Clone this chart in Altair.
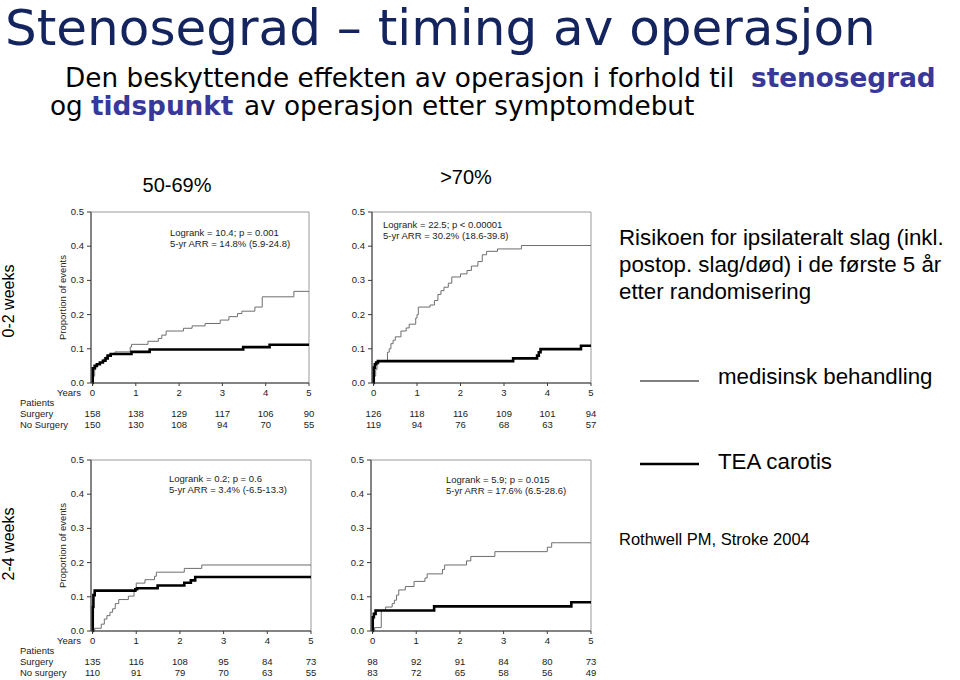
import altair as alt
import pandas as pd

# ------------------------------------------------------------------ data
YEARS = [0, 1, 2, 3, 4, 5]
Y_TICKS = [0.0, 0.1, 0.2, 0.3, 0.4, 0.5]

# 50-69 %, 0-2 weeks
a_med_t = [0, 0.02, 0.05, 0.08, 0.12, 0.18, 0.25, 0.32, 0.4, 0.52, 0.87, 0.9, 1.28, 1.52,
           1.6, 1.7, 2.1, 2.3, 2.6, 2.95, 3.15, 3.35, 3.45, 3.75, 3.92, 4.65, 5]
a_med_y = [0, 0.02, 0.04, 0.05, 0.055, 0.06, 0.07, 0.08, 0.085, 0.091, 0.105, 0.113, 0.122, 0.13,
           0.14, 0.152, 0.16, 0.167, 0.174, 0.184, 0.194, 0.203, 0.21, 0.222, 0.252, 0.268, 0.268]
a_tea_t = [0, 0.005, 0.05, 0.1, 0.17, 0.24, 0.3, 0.35, 0.42, 0.9, 1.32, 3.48, 4.09, 5]
a_tea_y = [0, 0.043, 0.05, 0.055, 0.06, 0.065, 0.072, 0.08, 0.085, 0.091, 0.098, 0.105, 0.112, 0.112]
a_surg_n = [158, 138, 129, 117, 106, 90]
a_nosurg_n = [150, 130, 108, 94, 70, 55]
a_stats = ["Logrank = 10.4; p = 0.001", "5-yr ARR = 14.8% (5.9-24.8)"]

# >70 %, 0-2 weeks
b_med_t = [0, 0.02, 0.05, 0.08, 0.12, 0.32, 0.36, 0.4, 0.45, 0.5, 0.63, 0.75, 0.82, 0.97, 1.0,
           1.03, 1.3, 1.4, 1.48, 1.55, 1.62, 1.72, 1.8, 2.0, 2.15, 2.25, 2.4, 2.5, 2.6, 2.85, 3.4, 5]
b_med_y = [0, 0.02, 0.04, 0.055, 0.065, 0.09, 0.1, 0.115, 0.125, 0.135, 0.152, 0.161, 0.172, 0.19, 0.2,
           0.222, 0.228, 0.241, 0.259, 0.27, 0.28, 0.292, 0.31, 0.319, 0.329, 0.342, 0.355, 0.375,
           0.385, 0.392, 0.402, 0.402]
b_tea_t = [0, 0.005, 0.03, 0.06, 0.1, 3.21, 3.76, 3.8, 3.84, 4.77, 5]
b_tea_y = [0, 0.045, 0.055, 0.06, 0.064, 0.072, 0.08, 0.09, 0.099, 0.109, 0.109]
b_surg_n = [126, 118, 116, 109, 101, 94]
b_nosurg_n = [119, 94, 76, 68, 63, 57]
b_stats = ["Logrank = 22.5; p < 0.00001", "5-yr ARR = 30.2% (18.6-39.8)"]

# 50-69 %, 2-4 weeks
c_med_t = [0, 0.05, 0.2, 0.27, 0.33, 0.4, 0.46, 0.52, 0.6, 0.82, 0.95, 1.0, 1.2, 1.42, 1.46,
           2.1, 2.5, 5]
c_med_y = [0, 0.008, 0.02, 0.035, 0.045, 0.055, 0.065, 0.08, 0.092, 0.102, 0.12, 0.14, 0.15,
           0.16, 0.172, 0.183, 0.193, 0.193]
c_tea_t = [0, 0.005, 0.02, 0.05, 0.98, 1.02, 1.49, 2.1, 2.25, 2.35, 5]
c_tea_y = [0, 0.07, 0.105, 0.118, 0.122, 0.125, 0.133, 0.141, 0.148, 0.158, 0.158]
c_surg_n = [135, 116, 108, 95, 84, 73]
c_nosurg_n = [110, 91, 79, 70, 63, 55]
c_stats = ["Logrank = 0.2; p = 0.6", "5-yr ARR = 3.4% (-6.5-13.3)"]

# >70 %, 2-4 weeks
d_med_t = [0, 0.05, 0.2, 0.3, 0.45, 0.5, 0.55, 0.6, 0.75, 0.95, 1.2, 1.25, 1.6, 1.65, 2.15,
           2.25, 2.8, 4.0, 4.1, 5]
d_med_y = [0, 0.01, 0.06, 0.07, 0.08, 0.09, 0.105, 0.12, 0.13, 0.145, 0.155, 0.167, 0.18, 0.193,
           0.205, 0.218, 0.232, 0.245, 0.258, 0.258]
d_tea_t = [0, 0.005, 0.03, 0.07, 1.41, 4.55, 5]
d_tea_y = [0, 0.04, 0.05, 0.06, 0.072, 0.084, 0.084]
d_surg_n = [98, 92, 91, 84, 80, 73]
d_nosurg_n = [83, 72, 65, 58, 56, 49]
d_stats = ["Logrank = 5.9; p = 0.015", "5-yr ARR = 17.6% (6.5-28.6)"]

# ------------------------------------------------------------------ style
W, H = 960, 680
XMIN = -0.035
FONT = "Liberation Sans"
SANS = "DejaVu Sans"
INK = "#222222"
AXIS = "#3a3a3a"
FRAME = "#9a9a9a"
MED_COLOR = "#6e6e6e"
TEA_COLOR = "#000000"
TITLE_BLUE = "#14245e"
ACCENT = "#38389a"
ONE = alt.Data(values=[{}])


def txt(text, x, y, size, color="#000000", font=FONT, weight="normal",
        align="left", baseline="middle", angle=0):
    kw = dict(text=text, font=font, fontSize=size, color=color, fontWeight=weight,
              align=align, baseline=baseline)
    if angle:
        kw["angle"] = angle
    return alt.Chart(ONE).mark_text(**kw).encode(x=alt.value(x), y=alt.value(y))


def rule(x1, x2, y, width):
    return alt.Chart(ONE).mark_rule(color="#000000", strokeWidth=width).encode(
        x=alt.value(x1), x2=alt.value(x2), y=alt.value(y))


def panel(med_t, med_y, tea_t, tea_y, surg_n, nosurg_n, stats,
          ax, x1, ytop, ybot, stat_x, stat_y, left, nosurg_label):
    xs = alt.Scale(domain=[XMIN, 5], range=[ax, x1], nice=False, zero=False)
    ys = alt.Scale(domain=[0, 0.5], range=[ybot, ytop], nice=False, zero=False)

    def X(f):
        return alt.X(f, scale=xs, axis=None)

    def Y(f):
        return alt.Y(f, scale=ys, axis=None)

    # frame (grey box) and the two axis lines
    frame = alt.Chart(pd.DataFrame({"x": [XMIN], "x2": [5], "y": [0.0], "y2": [0.5]})
                      ).mark_rect(fill="transparent", stroke=FRAME, strokeWidth=1).encode(
        x=X("x:Q"), x2="x2:Q", y=Y("y:Q"), y2="y2:Q")
    yline = alt.Chart(pd.DataFrame({"x": [XMIN], "y": [0.0], "y2": [0.5]})
                      ).mark_rule(color=AXIS, strokeWidth=1).encode(
        x=X("x:Q"), y=Y("y:Q"), y2="y2:Q")
    xline = alt.Chart(pd.DataFrame({"x": [XMIN], "x2": [5], "y": [0.0]})
                      ).mark_rule(color=AXIS, strokeWidth=1).encode(
        x=X("x:Q"), x2="x2:Q", y=Y("y:Q"))

    xt = pd.DataFrame({"t": YEARS})
    xticks = alt.Chart(xt).mark_rule(color=AXIS, strokeWidth=1).encode(
        x=X("t:Q"), y=alt.value(ybot), y2=alt.value(ybot + 3))
    xlabels = alt.Chart(xt).mark_text(font=FONT, fontSize=9.5, color=INK,
                                      align="center", baseline="middle").encode(
        x=X("t:Q"), y=alt.value(ybot + 10), text=alt.Text("t:Q", format="d"))

    yt = pd.DataFrame({"v": Y_TICKS})
    yticks = alt.Chart(yt).mark_rule(color=AXIS, strokeWidth=1).encode(
        x=alt.value(ax - 4), x2=alt.value(ax), y=Y("v:Q"))
    ylabels = alt.Chart(yt).mark_text(font=FONT, fontSize=9.5, color=INK,
                                      align="right", baseline="middle").encode(
        x=alt.value(ax - 7), y=Y("v:Q"), text=alt.Text("v:Q", format=".1f"))

    med = alt.Chart(pd.DataFrame({"t": med_t, "p": med_y})).mark_line(
        interpolate="step-after", color=MED_COLOR, strokeWidth=1).encode(
        x=X("t:Q"), y=Y("p:Q"))
    tea = alt.Chart(pd.DataFrame({"t": tea_t, "p": tea_y})).mark_line(
        interpolate="step-after", color=TEA_COLOR, strokeWidth=2.6).encode(
        x=X("t:Q"), y=Y("p:Q"))

    cnt = pd.DataFrame({"t": YEARS, "surg": surg_n, "nosurg": nosurg_n})
    row1, row2 = ybot + 31, ybot + 42
    surg_txt = alt.Chart(cnt).mark_text(font=FONT, fontSize=9.5, color=INK,
                                        align="center", baseline="middle").encode(
        x=X("t:Q"), y=alt.value(row1), text="surg:Q")
    nosurg_txt = alt.Chart(cnt).mark_text(font=FONT, fontSize=9.5, color=INK,
                                          align="center", baseline="middle").encode(
        x=X("t:Q"), y=alt.value(row2), text="nosurg:Q")

    layers = [frame, med, tea, yline, xline, xticks, xlabels, yticks, ylabels,
              surg_txt, nosurg_txt,
              txt(stats[0], stat_x, stat_y, 9.5, INK),
              txt(stats[1], stat_x, stat_y + 11, 9.5, INK)]
    if left:
        layers += [txt("Proportion of events", 63, (ytop + ybot) / 2, 9.5, INK,
                       align="center", angle=270),
                   txt("Years", 81, ybot + 10, 9.5, INK, align="right"),
                   txt("Patients", 20, ybot + 20, 9.5, INK),
                   txt("Surgery", 20, row1, 9.5, INK),
                   txt(nosurg_label, 20, row2, 9.5, INK)]
    return alt.layer(*layers)


pA = panel(a_med_t, a_med_y, a_tea_t, a_tea_y, a_surg_n, a_nosurg_n, a_stats,
           91, 309, 212, 383, 170, 233, True, "No Surgery")
pB = panel(b_med_t, b_med_y, b_tea_t, b_tea_y, b_surg_n, b_nosurg_n, b_stats,
           372, 591, 212, 383, 383, 225, False, "")
pC = panel(c_med_t, c_med_y, c_tea_t, c_tea_y, c_surg_n, c_nosurg_n, c_stats,
           91, 311, 460, 631, 169, 479, True, "No surgery")
pD = panel(d_med_t, d_med_y, d_tea_t, d_tea_y, d_surg_n, d_nosurg_n, d_stats,
           371, 591, 460, 631, 446, 480, False, "")

texts = [
    txt("Stenosegrad – timing av operasjon", 5, 45, 50, TITLE_BLUE, font=SANS,
        baseline="alphabetic"),
    txt("Den beskyttende effekten av operasjon i forhold til", 65, 87, 26.3, font=SANS,
        baseline="alphabetic"),
    txt("stenosegrad", 751, 87, 26.3, ACCENT, font=SANS, weight="bold",
        baseline="alphabetic"),
    txt("og", 50, 115, 26.3, font=SANS, baseline="alphabetic"),
    txt("tidspunkt", 91, 115, 26.3, ACCENT, font=SANS, weight="bold", baseline="alphabetic"),
    txt("av operasjon etter symptomdebut", 244, 115, 26.3, font=SANS, baseline="alphabetic"),
    txt("50-69%", 177, 186, 20, align="center"),
    txt(">70%", 466, 178, 20, align="center"),
    txt("0-2 weeks", 9, 301, 16, align="center", angle=270),
    txt("2-4 weeks", 9, 544, 16, align="center", angle=270),
    txt("Risikoen for ipsilateralt slag (inkl.", 619, 238, 22.3),
    txt("postop. slag/død) i de første 5 år", 619, 265, 22.3),
    txt("etter randomisering", 619, 292, 22.3),
    rule(640, 699, 381, 1),
    txt("medisinsk behandling", 718, 377, 22.3),
    rule(640, 699, 464, 2.6),
    txt("TEA carotis", 718, 462, 22.3),
    txt("Rothwell PM, Stroke 2004", 619, 540, 16.5),
]

chart = alt.layer(pA, pB, pC, pD, *texts).resolve_scale(
    x="independent", y="independent"
).properties(
    width=W, height=H, padding=0,
    autosize=alt.AutoSizeParams(type="none"),
    background="#ffffff",
).configure_view(stroke="transparent")

chart.save("out.html", embed_options={"renderer": "svg", "actions": False})
